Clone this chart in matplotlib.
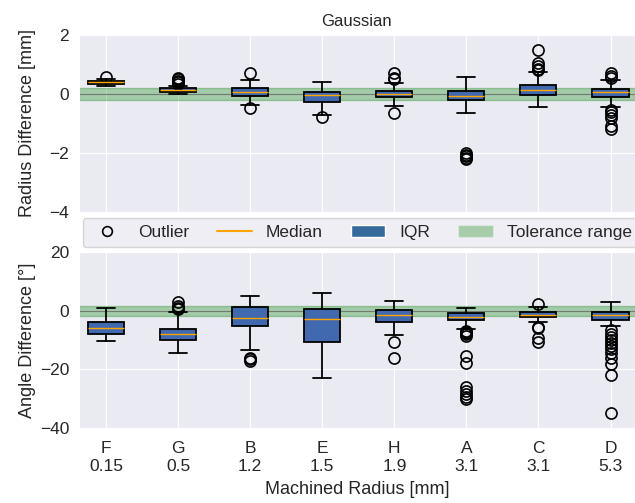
import numpy as np
import matplotlib
matplotlib.use("Agg")
import matplotlib.pyplot as plt
import seaborn as sns
from matplotlib.lines import Line2D
from matplotlib.patches import Patch

sns.set_style("darkgrid")
plt.rcParams['font.family'] = ['Liberation Sans', 'DejaVu Sans']

# machined parts and their nominal radius
labels = ["F", "G", "B", "E", "H", "A", "C", "D"]
radii = ["0.15", "0.5", "1.2", "1.5", "1.9", "3.1", "3.1", "5.3"]

# radius difference [mm] box stats
rad_q1 = [0.33, 0.05, -0.08, -0.27, -0.11, -0.22, -0.03, -0.11]
rad_med = [0.39, 0.13, 0.08, -0.03, 0.01, -0.06, 0.13, 0.05]
rad_q3 = [0.43, 0.20, 0.20, 0.08, 0.11, 0.11, 0.30, 0.16]
rad_lo = [0.27, 0.00, -0.39, -0.70, -0.41, -0.66, -0.44, -0.44]
rad_hi = [0.50, 0.26, 0.46, 0.40, 0.38, 0.57, 0.74, 0.46]
rad_fliers = [
    [0.58],
    [0.35, 0.40, 0.45, 0.50, 0.55],
    [0.69, -0.49],
    [-0.79],
    [0.71, 0.55, 0.49, -0.66],
    [-2.0, -2.05, -2.1, -2.15, -2.2],
    [1.47, 1.04, 0.95, 0.85, 0.82],
    [0.71, 0.62, 0.55, -0.55, -0.6, -0.7, -0.8, -1.1, -1.2],
]

# angle difference [deg] box stats
ang_q1 = [-7.8, -10.0, -5.3, -10.6, -3.7, -3.3, -2.2, -3.3]
ang_med = [-5.8, -8.1, -2.4, -2.8, -1.3, -2.0, -1.3, -1.3]
ang_q3 = [-3.9, -6.1, 1.3, 0.6, 0.2, -0.9, -0.3, -0.3]
ang_lo = [-10.3, -14.4, -13.3, -22.8, -8.3, -6.1, -3.9, -5.3]
ang_hi = [1.0, -0.6, 5.0, 5.9, 3.3, 0.9, 1.3, 3.0]
ang_fliers = [
    [],
    [2.8, 1.7, 1.0, 0.5],
    [-16.0, -16.5, -17.0],
    [],
    [-10.8, -16.1],
    [-6.8, -7.2, -7.6, -8.0, -8.5, -15.3, -17.8, -26.1, -27.5, -28.5, -29.5, -30.0],
    [2.2, -5.6, -6.0, -9.4, -10.6],
    [-6.7, -8.0, -9.0, -10.0, -11.0, -12.0, -13.0, -14.5, -16.0, -18.0, -22.0, -35.0],
]

rad_tol = 0.2
ang_tol = 1.7

box_col = "#4169b0"
med_col = "orange"
tol_col = "green"


def make_stats(q1, med, q3, lo, hi, fl):
    return [dict(q1=a, med=b, q3=c, whislo=d, whishi=e, fliers=f)
            for a, b, c, d, e, f in zip(q1, med, q3, lo, hi, fl)]


fig = plt.figure(figsize=(6.35, 5.03), dpi=100)
ax1 = fig.add_axes([0.124, 0.578, 0.876, 0.353])
ax2 = fig.add_axes([0.124, 0.149, 0.876, 0.350])

pos = np.arange(1, len(labels) + 1)
for ax, stats, tol, ylim, yt in [
        (ax1, make_stats(rad_q1, rad_med, rad_q3, rad_lo, rad_hi, rad_fliers), rad_tol, (-4, 2), [-4, -2, 0, 2]),
        (ax2, make_stats(ang_q1, ang_med, ang_q3, ang_lo, ang_hi, ang_fliers), ang_tol, (-40, 20), [-40, -20, 0, 20])]:
    ax.axhspan(-tol, tol, color=tol_col, alpha=0.3, zorder=1)
    ax.axhline(0, color="#555555", lw=0.8, alpha=0.7, zorder=1.5)
    ax.bxp(stats, positions=pos, widths=0.5, patch_artist=True,
           boxprops=dict(facecolor=box_col, edgecolor="black", linewidth=1.3),
           medianprops=dict(color=med_col, linewidth=1.0),
           whiskerprops=dict(color="black", linewidth=1.3),
           capprops=dict(color="black", linewidth=1.3),
           flierprops=dict(marker="o", markerfacecolor="none", markeredgecolor="black",
                           markersize=8, markeredgewidth=1.2),
           zorder=3)
    ax.set_xlim(0.62, 8.34)
    ax.set_ylim(*ylim)
    ax.set_yticks(yt)
    ax.tick_params(axis="both", labelsize=12.5)

ax1.set_xticks(pos)
ax1.set_xticklabels([])
ax2.set_xticks(pos)
ax2.set_xticklabels([f"{l}\n{r}" for l, r in zip(labels, radii)])
ax2.tick_params(axis="x", pad=6)
ax1.set_title("Gaussian", fontsize=12)
ax1.set_ylabel("Radius Difference [mm]", fontsize=13)
ax2.set_ylabel("Angle Difference [°]", fontsize=13)
ax2.set_xlabel("Machined Radius [mm]", fontsize=13, labelpad=5)
ax1.yaxis.set_label_coords(-0.077, 0.5)
ax2.yaxis.set_label_coords(-0.077, 0.5)

handles = [
    Line2D([], [], marker="o", ls="none", markerfacecolor="none", markeredgecolor="black",
           markersize=7, markeredgewidth=1.2, label="Outlier"),
    Line2D([], [], color="orange", lw=1.5, label="Median"),
    Patch(facecolor="#356a9c", label="IQR"),
    Patch(facecolor=tol_col, alpha=0.3, label="Tolerance range"),
]
fig.legend(handles=handles, loc="center", ncol=4, fontsize=12.5,
           bbox_to_anchor=(0.568, 0.537), frameon=True, columnspacing=1.6,
           handlelength=2.0, borderpad=0.4)

fig.savefig("out.png", dpi=100)
